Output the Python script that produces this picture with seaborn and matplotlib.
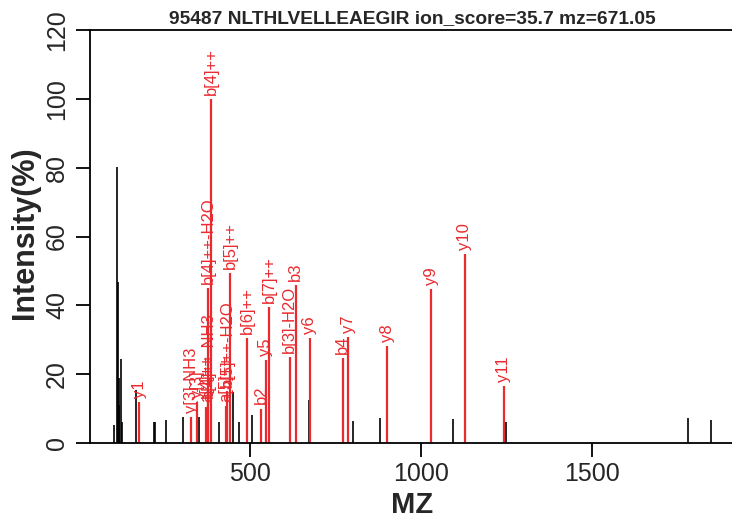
import numpy as np
import pandas as pd
import matplotlib
matplotlib.use("Agg")
import matplotlib.pyplot as plt
import seaborn as sns

# ---- data ----
title = "95487 NLTHLVELLEAEGIR ion_score=35.7 mz=671.05"

other_mz = [101.2, 111.0, 113.0, 116.0, 117.0, 121.5, 125.0, 165.7, 219.0, 221.5,
            254.0, 304.5, 351.4, 410.0, 451.0, 468.7, 505.0, 671.0, 801.0, 881.0,
            1093.0, 1129.8, 1242.7, 1248.0, 1780.6, 1849.0]
other_int = [5.2, 80.2, 46.9, 11.0, 19.0, 24.4, 6.2, 15.5, 6.2, 6.2,
             6.7, 7.6, 7.6, 6.2, 14.9, 6.2, 8.1, 12.5, 6.5, 7.2,
             6.9, 31.0, 12.0, 6.2, 7.2, 6.7]

ion_labels = ["y1", "y[3]-NH3", "y[3]", "a[4]++", "b[4]++-NH3", "b[4]++-H2O", "b[4]++",
              "a[5]++", "b[5]++-H2O", "b[5]++", "b[6]++", "b2", "y5", "b[7]++",
              "b[3]-H2O", "b3", "y6", "b4", "y7", "y8", "y9", "y10", "y11"]
ion_mz = [175.1, 328.2, 345.2, 371.7, 377.2, 376.7, 385.7,
          428.3, 433.3, 442.3, 491.8, 532.3, 545.3, 556.3,
          615.4, 633.4, 674.3, 770.4, 787.4, 900.5, 1029.6, 1128.6, 1241.7]
ion_int = [12.0, 7.6, 12.0, 10.6, 12.0, 45.0, 100.0,
           10.7, 15.0, 49.5, 30.4, 10.0, 24.0, 39.5,
           25.0, 46.0, 30.5, 24.7, 30.9, 28.2, 44.7, 54.8, 16.6]

others = pd.DataFrame({"mz": other_mz, "intensity": other_int})
ions = pd.DataFrame({"label": ion_labels, "mz": ion_mz, "intensity": ion_int})

RED = "#EA2A2E"

sns.set_style("white")
plt.rcParams["font.family"] = ["Liberation Sans", "DejaVu Sans"]

fig = plt.figure(figsize=(7.32, 5.27), dpi=100)
W, H = 732, 527
ax = fig.add_axes([90 / W, (H - 443) / H, (735 - 90) / W, (443 - 30) / H])

ax.vlines(others["mz"], 0, others["intensity"], color="black", lw=1.2)
ax.vlines(ions["mz"], 0, ions["intensity"], color=RED, lw=1.6)
for _, r in ions.iterrows():
    ax.text(r["mz"], r["intensity"] + 1.2, r["label"], rotation=90,
            ha="center", va="bottom", color=RED, fontsize=12)

allmz = np.array(other_mz + ion_mz)
lo, hi = allmz.min(), allmz.max()
pad = 0.04 * (hi - lo)
ax.set_xlim(lo - pad, hi + pad)
ax.set_ylim(0, 120)
ax.set_xticks([500, 1000, 1500])
ax.set_yticks([0, 20, 40, 60, 80, 100, 120])
ax.tick_params(axis="both", direction="out", length=10, width=1.3, color="black",
               labelsize=18, bottom=True, left=True)
ax.tick_params(axis="x", pad=4)
ax.tick_params(axis="y", pad=5)
for lab in ax.get_yticklabels():
    lab.set_rotation(90)
    lab.set_va("center")
for s in ax.spines.values():
    s.set_color("black")
    s.set_linewidth(1.3)

ax.set_xlabel("MZ", fontsize=21, fontweight="bold")
ax.xaxis.set_label_coords(0.5, -(505 - 443) / 413)
ax.xaxis.label.set_va("center")
ax.set_ylabel("Intensity(%)", fontsize=22, fontweight="bold")
ax.yaxis.set_label_coords(-(90 - 25) / 645, 0.51)
ax.yaxis.label.set_va("center")
ax.set_title(title, fontsize=13.8, fontweight="bold", pad=5)

fig.savefig("out.png", dpi=100)
